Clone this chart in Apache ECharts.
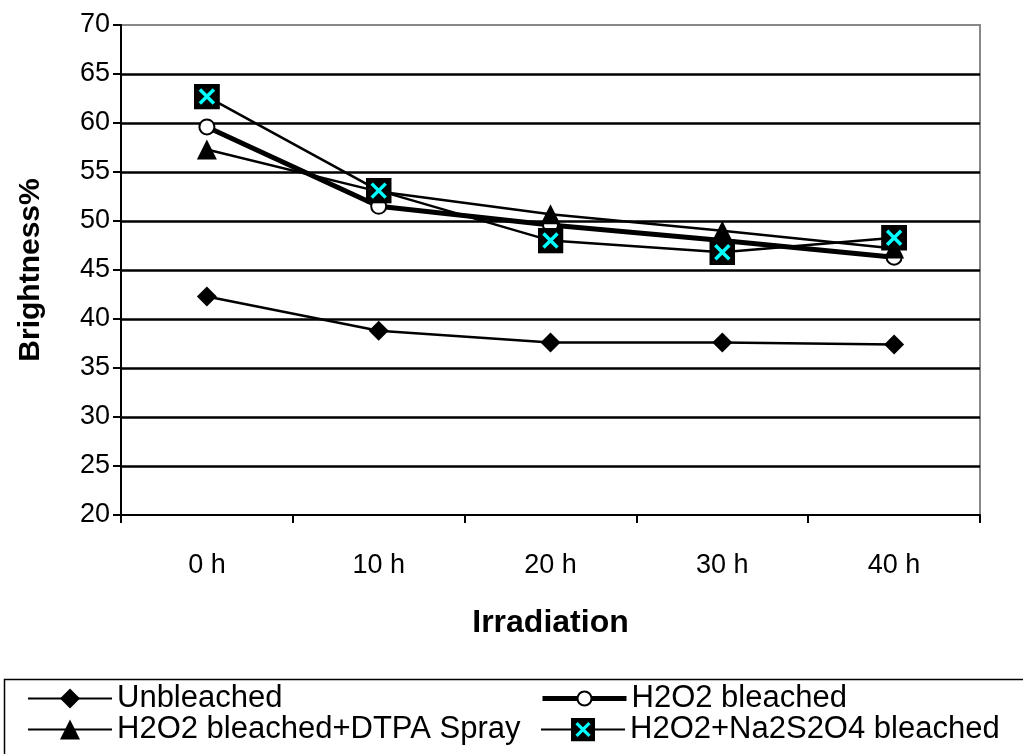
<!DOCTYPE html>
<html>
<head>
<meta charset="utf-8">
<title>Brightness vs Irradiation</title>
<script src="https://cdn.jsdelivr.net/npm/echarts@6/dist/echarts.min.js"></script>
<style>
  html, body { margin: 0; padding: 0; background: #fff; }
  #chart { width: 1023px; height: 754px; }
</style>
</head>
<body>
<div id="chart"></div>
<script>
// Irradiation time points
const categories = ['0 h', '10 h', '20 h', '30 h', '40 h'];

// Brightness (%) per treatment
const unbleached = [42.3, 38.8, 37.6, 37.6, 37.4];
const h2o2Bleached = [59.6, 51.5, 49.6, 48.0, 46.3];
const h2o2Dtpa = [57.3, 53.0, 50.7, 49.0, 47.2];
const h2o2Na2s2o4 = [62.7, 53.1, 48.0, 46.8, 48.3];

const seriesNames = [
  'Unbleached',
  'H2O2 bleached',
  'H2O2 bleached+DTPA Spray',
  'H2O2+Na2S2O4 bleached'
];

// Black square with a cyan cross, used as the Na2S2O4 marker
const crossSquareSvg =
  "<svg xmlns='http://www.w3.org/2000/svg' width='26' height='26' viewBox='0 0 26 26'>" +
  "<rect x='0' y='0' width='26' height='26' fill='black'/>" +
  "<path d='M6 6L20 20M20 6L6 20' stroke='#00FFFF' stroke-width='3.5' stroke-linecap='butt'/>" +
  "</svg>";
const crossSquareSymbol = 'image://data:image/svg+xml;charset=utf-8,' + encodeURIComponent(crossSquareSvg);

const FONT = "'Liberation Sans', Arial, Helvetica, sans-serif";

const chart = echarts.init(document.getElementById('chart'), null, { renderer: 'canvas' });

const legendText = { fontFamily: FONT, fontSize: 31, color: '#000', lineHeight: 31 };

const THIN = 2.5;
const THICK = 5;

// One legend block per entry so each keeps its own marker size
function legendEntry(name, left, top, markerSize, lineWidth) {
  return {
    data: [{ name: name, lineStyle: { width: lineWidth, color: '#000' } }],
    left: left, top: top,
    itemWidth: 84, itemHeight: markerSize / 0.8,
    textStyle: legendText,
    selectedMode: false
  };
}

chart.setOption({
  animation: false,
  backgroundColor: '#fff',
  grid: {
    left: 121, top: 25, right: 43, bottom: 239,
    show: true, borderColor: '#888', borderWidth: 2, backgroundColor: 'transparent'
  },
  xAxis: {
    type: 'category',
    data: categories,
    boundaryGap: true,
    name: 'Irradiation',
    nameLocation: 'middle',
    nameGap: 92,
    nameTextStyle: { fontFamily: FONT, fontSize: 32, fontWeight: 'bold', color: '#000' },
    axisLine: { lineStyle: { color: '#000', width: 2 } },
    axisTick: { show: true, length: 8, interval: 0, alignWithLabel: false, lineStyle: { color: '#000', width: 2 } },
    axisLabel: { fontFamily: FONT, fontSize: 27, color: '#000', margin: 37, interval: 0 },
    splitLine: { show: false }
  },
  yAxis: {
    type: 'value',
    min: 20, max: 70, interval: 5,
    name: 'Brightness%',
    nameLocation: 'middle',
    nameGap: 75,
    nameTextStyle: { fontFamily: FONT, fontSize: 30, fontWeight: 'bold', color: '#000' },
    axisLine: { show: true, lineStyle: { color: '#000', width: 2 } },
    axisTick: { show: true, length: 8, lineStyle: { color: '#000', width: 2 } },
    axisLabel: { fontFamily: FONT, fontSize: 27, color: '#000', margin: 11 },
    splitLine: { show: true, showMinLine: false, showMaxLine: false, lineStyle: { color: '#000', width: 2.5 } }
  },
  legend: [
    legendEntry(seriesNames[0], 22, 678, 20, 2),
    legendEntry(seriesNames[2], 22, 709, 20, 2),
    legendEntry(seriesNames[1], 535, 678, 14, THICK),
    legendEntry(seriesNames[3], 535, 709, 24, 2)
  ],
  graphic: [
    {
      type: 'rect',
      left: 2, top: 677,
      shape: { width: 1040, height: 100 },
      style: { fill: 'none', stroke: '#000', lineWidth: 1.5 },
      silent: true
    }
  ],
  series: [
    {
      name: seriesNames[0],
      type: 'line',
      data: unbleached,
      symbol: 'diamond',
      symbolSize: 20,
      lineStyle: { color: '#000', width: THIN },
      itemStyle: { color: '#000' }
    },
    {
      name: seriesNames[1],
      type: 'line',
      data: h2o2Bleached,
      symbol: 'circle',
      symbolSize: 15,
      lineStyle: { color: '#000', width: THICK },
      itemStyle: { color: '#fff', borderColor: '#000', borderWidth: 2 }
    },
    {
      name: seriesNames[2],
      type: 'line',
      data: h2o2Dtpa,
      symbol: 'triangle',
      symbolSize: 20,
      lineStyle: { color: '#000', width: THIN },
      itemStyle: { color: '#000' }
    },
    {
      name: seriesNames[3],
      type: 'line',
      data: h2o2Na2s2o4,
      symbol: crossSquareSymbol,
      symbolSize: 26,
      lineStyle: { color: '#000', width: THIN },
      itemStyle: { color: '#000' }
    }
  ]
});
</script>
</body>
</html>
